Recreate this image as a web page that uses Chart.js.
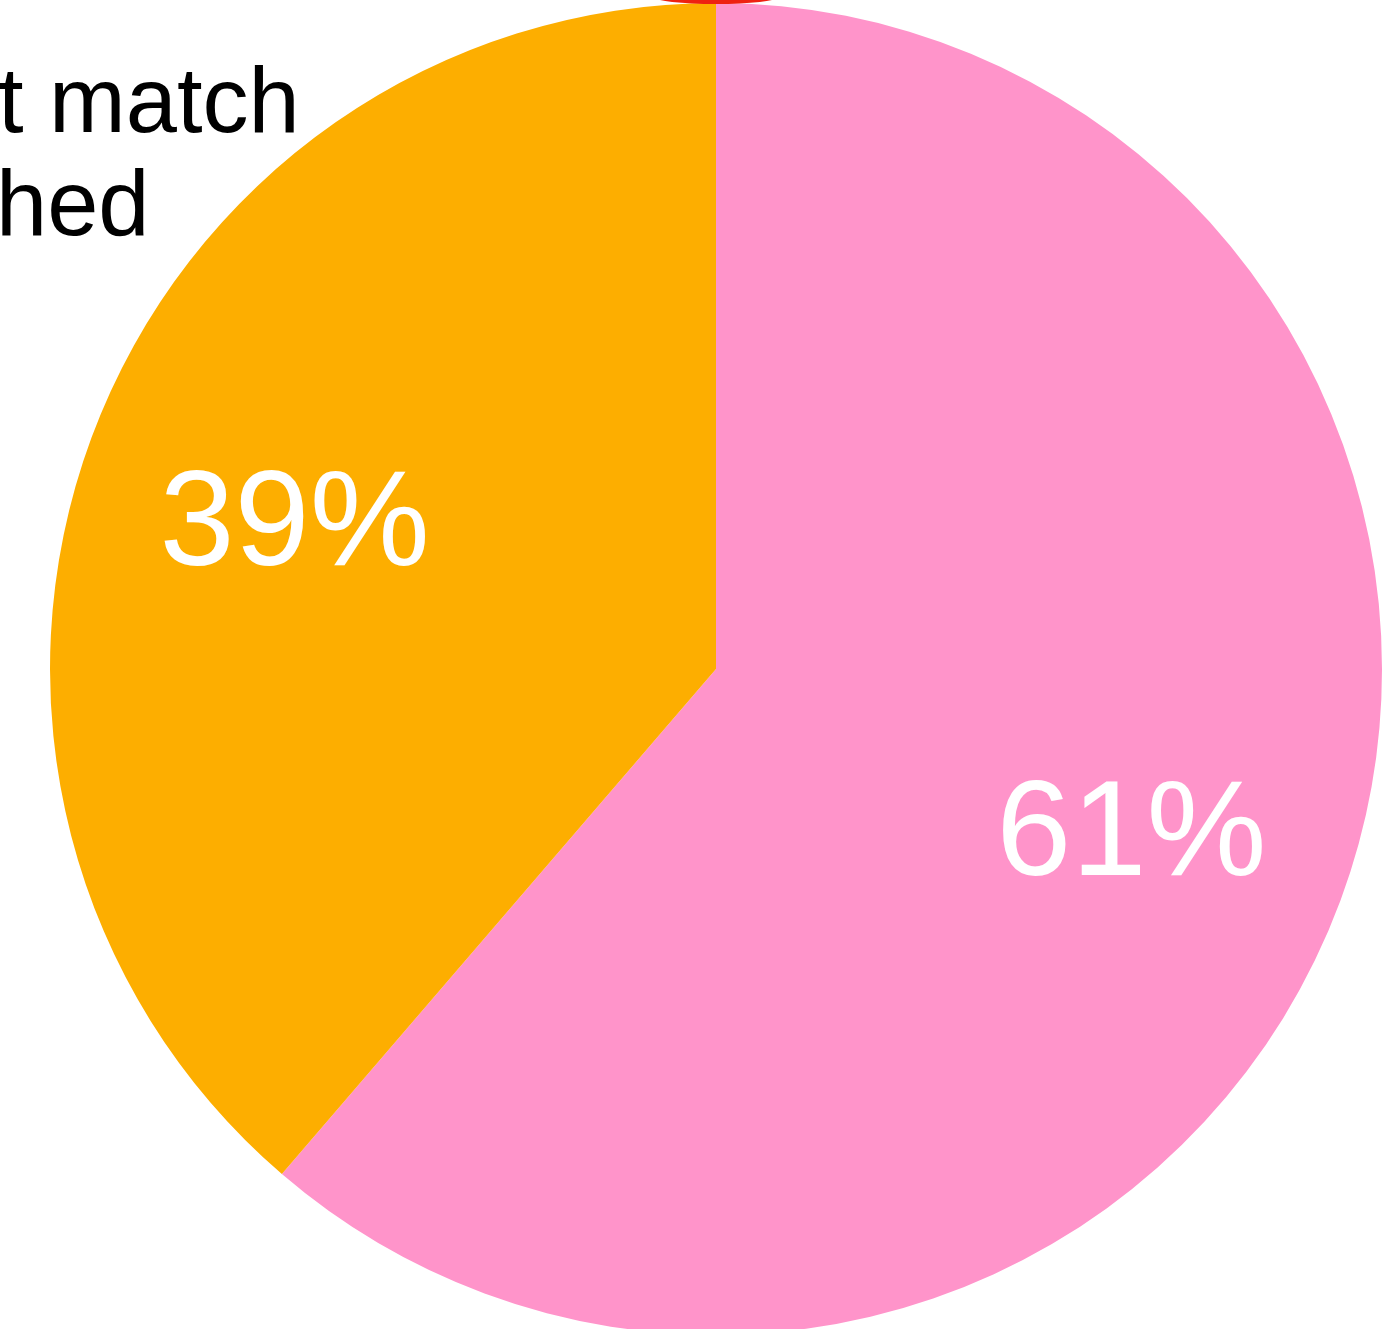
<!DOCTYPE html>
<html>
<head>
<meta charset="utf-8">
<script src="https://cdn.jsdelivr.net/npm/chart.js@4"></script>
<style>
  html, body { margin: 0; padding: 0; background: #fff; overflow: hidden; }
  .wrap { position: absolute; left: 0; top: 0; width: 1383px; height: 1340px; }
</style>
</head>
<body>
<div class="wrap"><canvas class="pie-chart"></canvas></div>
<script>
const labels = ['Matched', "Doesn't match"];
const values = [61.3, 38.7];
const sliceColors = ['#ff94ca', '#fdae00'];
// partial legend text visible at the left edge
const sideText = ['t match', 'hed'];

const percentLabels = {
  id: 'percentLabels',
  afterDatasetsDraw(chart) {
    const { ctx } = chart;
    const meta = chart.getDatasetMeta(0);
    const total = values.reduce((a, b) => a + b, 0);
    ctx.save();
    ctx.fillStyle = '#ffffff';
    ctx.font = '135px "Liberation Sans", Arial, sans-serif';
    ctx.textAlign = 'center';
    ctx.textBaseline = 'middle';
    meta.data.forEach((arc, i) => {
      const mid = (arc.startAngle + arc.endAngle) / 2;
      const r = arc.outerRadius * 0.67;
      const x = arc.x + Math.cos(mid) * r;
      const y = arc.y + Math.sin(mid) * r;
      ctx.fillText(Math.round(values[i] / total * 100) + '%', x - 3, y + 14);
    });
    // red mark peeking in above the pie
    const first = meta.data[0];
    ctx.fillStyle = '#ee2211';
    ctx.beginPath();
    ctx.ellipse(first.x, first.y - first.outerRadius - 6, 62, 7, 0, 0, Math.PI * 2);
    ctx.fill();
    // cut-off side text
    ctx.fillStyle = '#000000';
    ctx.font = '92px "Liberation Sans", Arial, sans-serif';
    ctx.textAlign = 'left';
    ctx.textBaseline = 'alphabetic';
    ctx.fillText(sideText[0], -2, 132);
    ctx.fillText(sideText[1], -4, 235);
    ctx.restore();
  },
};

const pieChart = document.querySelector('.pie-chart');
// eslint-disable-next-line no-new, no-undef
new Chart(pieChart, {
  type: 'pie',
  data: {
    labels: labels,
    datasets: [
      {
        data: values,
        backgroundColor: sliceColors,
        borderWidth: 0,
      },
    ],
  },
  options: {
    responsive: true,
    maintainAspectRatio: false,
    animation: false,
    layout: {
      padding: { left: 50, right: 1, top: 3, bottom: 5 },
    },
    plugins: {
      legend: { display: false },
      tooltip: { enabled: false },
    },
  },
  plugins: [percentLabels],
});
</script>
</body>
</html>
